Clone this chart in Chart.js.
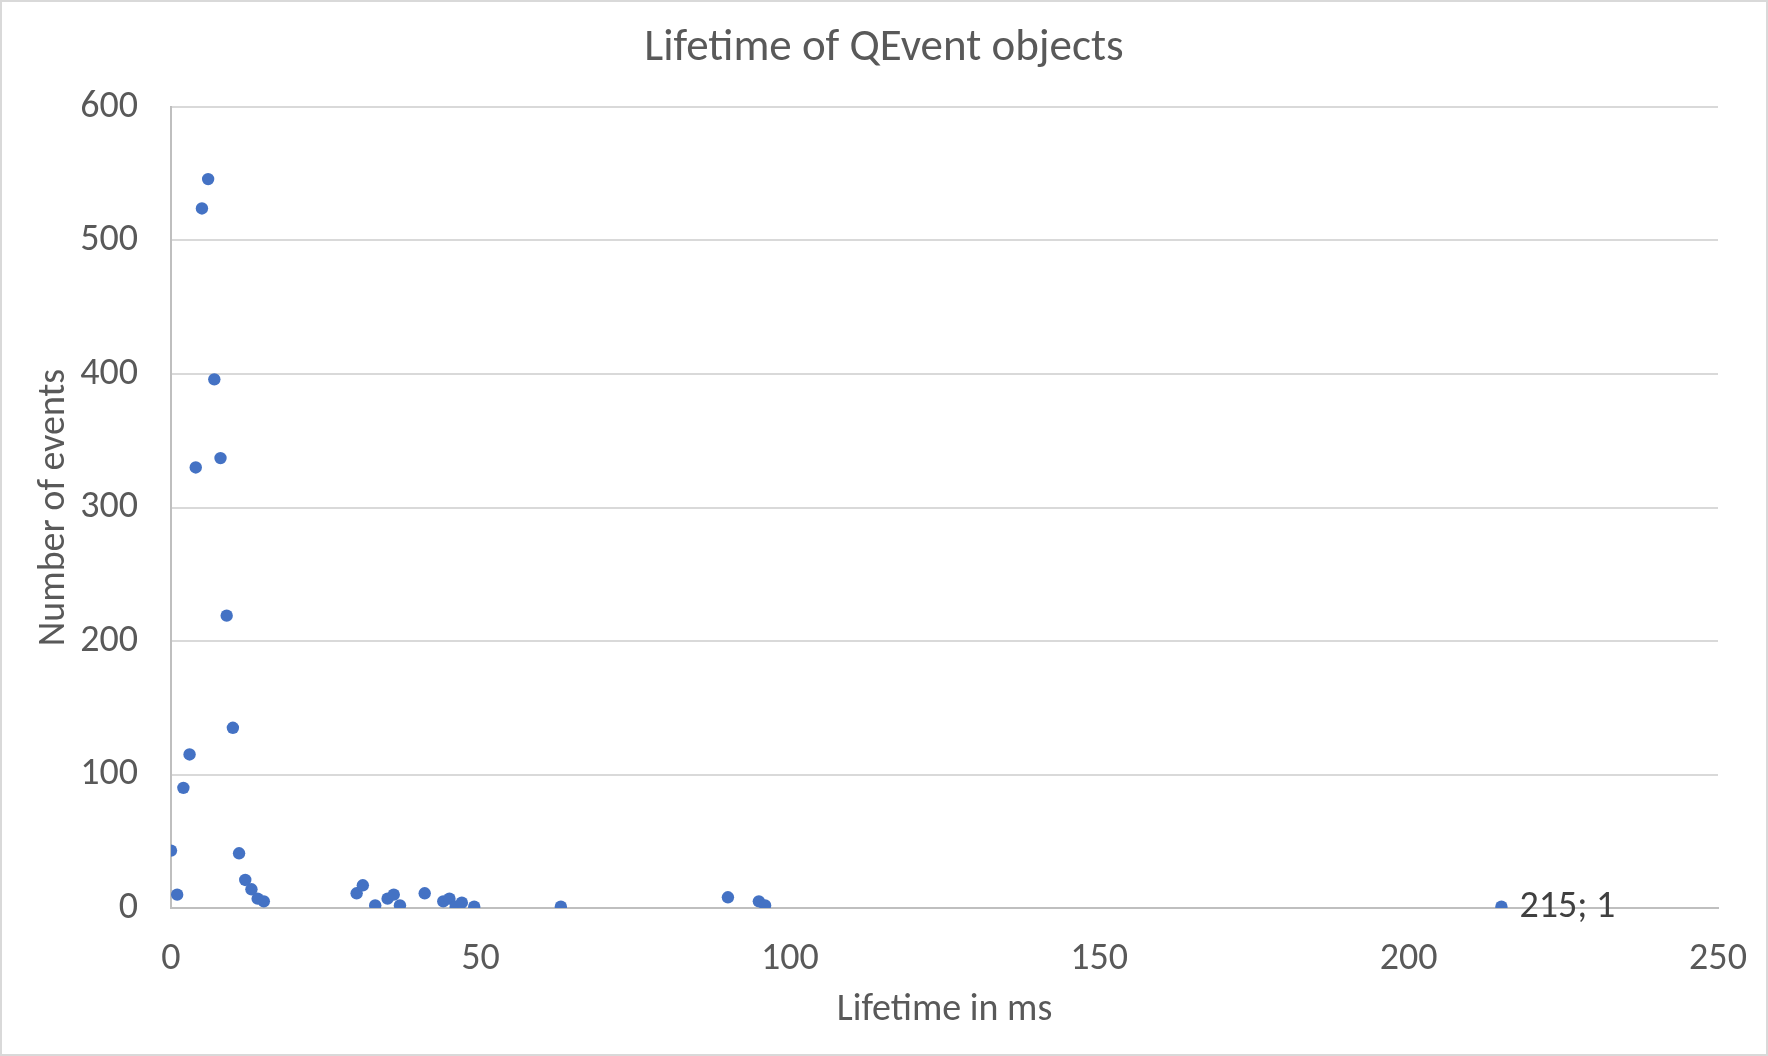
<!DOCTYPE html>
<html>
<head>
<meta charset="utf-8">
<title>Lifetime of QEvent objects</title>
<script src="https://cdn.jsdelivr.net/npm/chart.js@4/dist/chart.umd.min.js"></script>
<style>
  html, body { margin: 0; padding: 0; background: #ffffff; }
  #chartBox { width: 1768px; height: 1056px; }
</style>
</head>
<body>
<div id="chartBox"><canvas id="myChart"></canvas></div>
<script>
/*
  Scatter chart: how long QEvent objects live, and how many of them.
*/
"use strict";

/* ****************************************************************************
    DATA
**************************************************************************** */
// lifetime of the event in ms (x values)
const lifetimeMs = [0, 1, 2, 3, 4, 5, 6, 7, 8, 9, 10, 11, 12, 13, 14, 15,
  30, 31, 33, 35, 36, 37, 41, 44, 45, 46, 47, 49, 63, 90, 95, 96, 215];
// number of events with that lifetime (y values)
const eventCounts = [43, 10, 90, 115, 330, 524, 546, 396, 337, 219, 135, 41, 21, 14, 7, 5,
  11, 17, 2, 7, 10, 2, 11, 5, 7, 1, 4, 1, 1, 8, 5, 2, 1];
// tick labels on the two axes
const xTickValues = [0, 50, 100, 150, 200, 250];
const yTickValues = [0, 100, 200, 300, 400, 500, 600];
// index of the point that carries a data label
const labelledPoints = [32];

/* ****************************************************************************
    STYLE
**************************************************************************** */
var fontFamily = "Carlito, Lato, 'Open Sans', sans-serif";
var textColor = "#595959";
var pointColor = "#4472C4";

/* ****************************************************************************
    PLUGINS
**************************************************************************** */

/**
 * White background and the thin frame around the whole chart.
 */
const framePlugin = {
  id: "frame",
  beforeDraw(chart) {
    const ctx = chart.ctx;
    ctx.save();
    ctx.fillStyle = "#ffffff";
    ctx.fillRect(0, 0, chart.width, chart.height);
    ctx.strokeStyle = "#d9d9d9";
    ctx.lineWidth = 2;
    ctx.strokeRect(1, 1, chart.width - 2, chart.height - 2);
    ctx.restore();
  },
};

/**
 * Writes "x; y" to the right of the labelled points.
 */
const pointLabelPlugin = {
  id: "pointLabel",
  afterDatasetsDraw(chart) {
    const ctx = chart.ctx;
    const meta = chart.getDatasetMeta(0);
    ctx.save();
    ctx.font = "38px " + fontFamily;
    ctx.fillStyle = "#404040";
    ctx.textAlign = "left";
    ctx.textBaseline = "middle";
    for (let i = 0; i < labelledPoints.length; i++) {
      let idx = labelledPoints[i];
      let pt = meta.data[idx];
      ctx.fillText(lifetimeMs[idx] + "; " + eventCounts[idx], pt.x + 18, pt.y + 1);
    }
    ctx.restore();
  },
};

/* ****************************************************************************
    CHART
**************************************************************************** */

/**
 * Build the data and options, then draw the chart.
 */
function renderChart() {
  let points = [];
  for (let i = 0; i < lifetimeMs.length; i++) {
    points.push({ x: lifetimeMs[i], y: eventCounts[i] });
  }

  const data = {
    datasets: [
      {
        label: "Number of events",
        data: points,
        backgroundColor: pointColor,
        borderColor: pointColor,
        borderWidth: 0,
        pointRadius: 6.2,
        pointHoverRadius: 6.2,
      },
    ],
  };

  const config = {
    type: "scatter",
    data: data,
    plugins: [framePlugin, pointLabelPlugin],
    options: {
      responsive: false,
      animation: false,
      events: [],
      layout: {
        padding: 0,
      },
      plugins: {
        legend: { display: false },
        tooltip: { enabled: false },
        title: {
          display: true,
          text: "Lifetime of QEvent objects",
          color: textColor,
          font: { family: fontFamily, size: 45, weight: "normal" },
          padding: { top: 22, bottom: 31 },
        },
      },
      scales: {
        x: {
          type: "linear",
          min: 0,
          max: 250,
          afterBuildTicks(scale) {
            scale.ticks = xTickValues.map((v) => ({ value: v }));
          },
          afterFit(scale) {
            scale.height = 148;
            // the last label only needs half its width past the plot edge
            scale.paddingRight = 35;
          },
          grid: { display: false, drawTicks: false },
          border: { display: true, color: "#bfbfbf", width: 2 },
          ticks: {
            color: textColor,
            padding: 29,
            maxRotation: 0,
            autoSkip: false,
            font: { family: fontFamily, size: 38 },
          },
          title: {
            display: true,
            text: "Lifetime in ms",
            color: textColor,
            font: { family: fontFamily, size: 38 },
            padding: { top: 0, bottom: 23 },
          },
        },
        y: {
          type: "linear",
          min: 0,
          max: 600,
          afterBuildTicks(scale) {
            scale.ticks = yTickValues.map((v) => ({ value: v }));
          },
          afterFit(scale) {
            scale.width = 171;
          },
          grid: { color: "#d9d9d9", lineWidth: 2, drawTicks: false },
          border: { display: true, color: "#bfbfbf", width: 2 },
          ticks: {
            color: textColor,
            padding: 33,
            font: { family: fontFamily, size: 38 },
          },
          title: {
            display: true,
            text: "Number of events",
            color: textColor,
            font: { family: fontFamily, size: 38 },
            padding: { top: 32, bottom: 0 },
          },
        },
        // empty right-hand axis: only keeps the plot's right margin,
        // so the chart title stays centred on the whole picture
        spacer: {
          type: "linear",
          position: "right",
          afterFit(scale) {
            scale.width = 50;
          },
          grid: { display: false, drawTicks: false },
          border: { display: false },
          ticks: { display: false },
        },
      },
    },
  };

  let canvas = document.getElementById("myChart");
  canvas.width = 1768;
  canvas.height = 1056;
  new Chart(canvas, config);
}

renderChart();
</script>
</body>
</html>
